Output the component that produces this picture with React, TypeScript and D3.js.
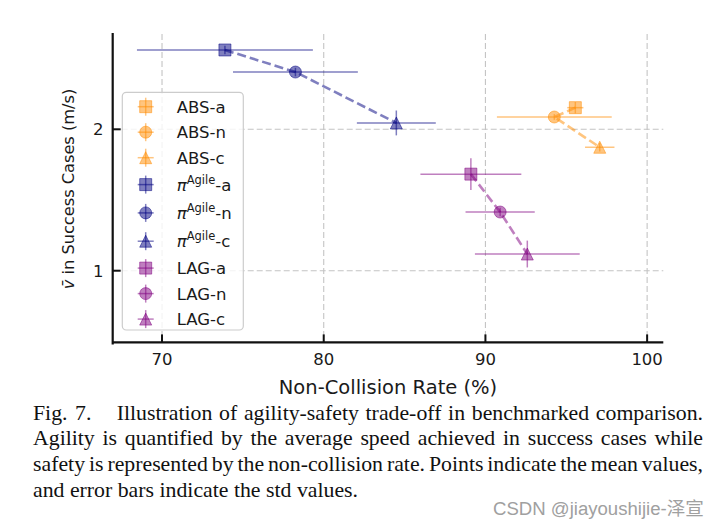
import React, { useEffect, useRef } from "react";
import * as d3 from "d3";

const W = 720;
const H = 528;

// ---- data ----
const seriesNames = ["ABS", "πAgile", "LAG"];
const variantNames = ["a", "n", "c"];
const markerShapes = ["square", "circle", "triangle"];
const seriesColors = ["#ff8c00", "#000080", "#800080"];

const absX = [95.56, 94.26, 97.07];
const absY = [2.153, 2.087, 1.873];
const absXErr = [0.5, 3.55, 0.91];
const absYErr = [0.04, 0.02, 0.03];

const agileX = [73.89, 78.25, 84.49];
const agileY = [2.561, 2.405, 2.045];
const agileXErr = [5.44, 3.86, 2.44];
const agileYErr = [0.03, 0.03, 0.088];

const lagX = [89.1, 90.91, 92.59];
const lagY = [1.683, 1.415, 1.118];
const lagXErr = [3.12, 2.14, 3.24];
const lagYErr = [0.113, 0.03, 0.095];

const xTicks = [70, 80, 90, 100];
const yTicks = [1, 2];
const xDomain = [66.95, 101];
const yDomain = [0.493, 2.674];

const xLabel = "Non-Collision Rate (%)";
const yLabelRest = " in Success Cases (m/s)";

const captionLead = ["Fig.", "7."];
const captionLines = [
  "Illustration of agility-safety trade-off in benchmarked comparison.",
  "Agility is quantified by the average speed achieved in success cases while",
  "safety is represented by the non-collision rate. Points indicate the mean values,",
  "and error bars indicate the std values.",
];
const watermark = "CSDN @jiayoushijie-泽宣";

// ---- layout ----
const plot = { left: 112.7, right: 663.3, top: 34, bottom: 342.4 };
const chartFont = "'DejaVu Sans', Verdana, sans-serif";

export default function App() {
  const ref = useRef<SVGSVGElement>(null);

  useEffect(() => {
    const svg = d3.select(ref.current as SVGSVGElement);
    svg.selectAll("*").remove();

    svg.append("rect").attr("width", W).attr("height", H).attr("fill", "#ffffff");

    const x = d3.scaleLinear().domain(xDomain).range([plot.left, plot.right]);
    const y = d3.scaleLinear().domain(yDomain).range([plot.bottom, plot.top]);

    const series = [
      { xs: absX, ys: absY, xe: absXErr, ye: absYErr },
      { xs: agileX, ys: agileY, xe: agileXErr, ye: agileYErr },
      { xs: lagX, ys: lagY, xe: lagXErr, ye: lagYErr },
    ];

    // grid
    const grid = svg.append("g").attr("stroke", "#c4c4c4").attr("stroke-width", 1.1).attr("stroke-dasharray", "6,3");
    xTicks.forEach((t) => {
      grid.append("line").attr("x1", x(t)).attr("x2", x(t)).attr("y1", plot.top).attr("y2", plot.bottom);
    });
    yTicks.forEach((t) => {
      grid.append("line").attr("x1", plot.left).attr("x2", plot.right).attr("y1", y(t)).attr("y2", y(t));
    });

    const markerPath = (shape: string, s: number) => {
      if (shape === "square") return `M${-s / 2},${-s / 2}h${s}v${s}h${-s}Z`;
      if (shape === "circle") {
        const r = s / 2;
        return `M${r},0A${r},${r} 0 1,1 ${-r},0A${r},${r} 0 1,1 ${r},0Z`;
      }
      const h = s / 2 + 0.5;
      return `M0,${-h}L${h},${h}L${-h},${h}Z`;
    };

    const drawMarker = (g: any, shape: string, color: string, cx: number, cy: number) => {
      g.append("path")
        .attr("d", markerPath(shape, shape === "triangle" ? 11 : 12))
        .attr("transform", `translate(${cx},${cy})`)
        .attr("fill", color)
        .attr("fill-opacity", 0.5)
        .attr("stroke", color)
        .attr("stroke-opacity", 0.5)
        .attr("stroke-width", 1);
    };

    const dataG = svg.append("g");
    series.forEach((s, si) => {
      const color = seriesColors[si];
      s.xs.forEach((vx, i) => {
        const vy = s.ys[i];
        dataG.append("line")
          .attr("x1", x(vx - s.xe[i])).attr("x2", x(vx + s.xe[i]))
          .attr("y1", y(vy)).attr("y2", y(vy))
          .attr("stroke", color).attr("stroke-opacity", 0.5).attr("stroke-width", 1.5);
        dataG.append("line")
          .attr("x1", x(vx)).attr("x2", x(vx))
          .attr("y1", y(vy - s.ye[i])).attr("y2", y(vy + s.ye[i]))
          .attr("stroke", color).attr("stroke-opacity", 0.5).attr("stroke-width", 1.5);
        drawMarker(dataG, markerShapes[i], color, x(vx), y(vy));
      });
      const line = d3.line<number>().x((d, i) => x(s.xs[i])).y((d, i) => y(s.ys[i]));
      dataG.append("path")
        .attr("d", line(s.xs) as string)
        .attr("fill", "none")
        .attr("stroke", color)
        .attr("stroke-opacity", 0.5)
        .attr("stroke-width", 2.6)
        .attr("stroke-dasharray", "9,4");
    });

    // spines + ticks
    const axG = svg.append("g").attr("stroke", "#111").attr("stroke-width", 2.2);
    axG.append("line").attr("x1", plot.left).attr("x2", plot.left).attr("y1", plot.top).attr("y2", plot.bottom + 1.1).attr("stroke-linecap", "square");
    axG.append("line").attr("x1", plot.left).attr("x2", plot.right).attr("y1", plot.bottom).attr("y2", plot.bottom);
    xTicks.forEach((t) => {
      axG.append("line").attr("x1", x(t)).attr("x2", x(t)).attr("y1", plot.bottom).attr("y2", plot.bottom - 8).attr("stroke-width", 2);
    });
    yTicks.forEach((t) => {
      axG.append("line").attr("x1", plot.left).attr("x2", plot.left + 8).attr("y1", y(t)).attr("y2", y(t)).attr("stroke-width", 2);
    });

    const txt = svg.append("g").attr("font-family", chartFont).attr("fill", "#1a1a1a");
    xTicks.forEach((t) => {
      txt.append("text").attr("x", x(t)).attr("y", 365.3).attr("text-anchor", "middle").attr("font-size", 16.5).text(String(t));
    });
    yTicks.forEach((t) => {
      txt.append("text").attr("x", 103.5).attr("y", y(t) + 6).attr("text-anchor", "end").attr("font-size", 16.5).text(String(t));
    });
    txt.append("text").attr("x", (plot.left + plot.right) / 2).attr("y", 394).attr("text-anchor", "middle").attr("font-size", 19.5).text(xLabel);
    const yl = txt.append("text")
      .attr("transform", `translate(74,189) rotate(-90)`)
      .attr("text-anchor", "middle").attr("font-size", 16.2);
    yl.append("tspan").attr("font-style", "italic").text("v\u0304");
    yl.append("tspan").text(yLabelRest);

    // legend
    const leg = svg.append("g");
    leg.append("rect")
      .attr("x", 122.3).attr("y", 92.3).attr("width", 121).attr("height", 237.7)
      .attr("rx", 4).attr("fill", "#ffffff").attr("fill-opacity", 0.8)
      .attr("stroke", "#cccccc").attr("stroke-width", 1.2);
    let rowY = 106.7;
    let prevH = 0;
    const hNormal = 25.5;
    const hPi = 28.3;
    seriesNames.forEach((name, si) => {
      variantNames.forEach((v, vi) => {
        const isPi = name === "πAgile";
        const h = isPi ? hPi : hNormal;
        if (prevH) rowY += (prevH + h) / 2;
        prevH = h;
        const color = seriesColors[si];
        const mx = 145.7;
        leg.append("line").attr("x1", mx - 8).attr("x2", mx + 8).attr("y1", rowY).attr("y2", rowY)
          .attr("stroke", color).attr("stroke-opacity", 0.5).attr("stroke-width", 1.5);
        leg.append("line").attr("x1", mx).attr("x2", mx).attr("y1", rowY - 9).attr("y2", rowY + 9)
          .attr("stroke", color).attr("stroke-opacity", 0.5).attr("stroke-width", 1.5);
        drawMarker(leg, markerShapes[vi], color, mx, rowY);
        const t = leg.append("text").attr("x", 176.7).attr("y", rowY + 6)
          .attr("font-family", chartFont).attr("font-size", 16.5).attr("fill", "#1a1a1a");
        if (isPi) {
          t.append("tspan").attr("font-style", "italic").text("π");
          t.append("tspan").attr("font-size", 11.5).attr("dy", -7).text("Agile");
          t.append("tspan").attr("dy", 7).text("-" + v);
        } else {
          t.text(`${name}-${v}`);
        }
      });
    });

    // caption (justified)
    const capFont = 21.8;
    const capLeft = 33;
    const capRight = 703;
    const base0 = 419.5;
    const lead = 25.8;
    const cap = svg.append("g")
      .attr("font-family", "'Liberation Serif', 'Times New Roman', serif")
      .attr("font-size", capFont).attr("fill", "#111");
    cap.append("text").attr("x", capLeft).attr("y", base0).text(captionLead[0]);
    cap.append("text").attr("x", 75).attr("y", base0).text(captionLead[1]);
    captionLines.forEach((ln, i) => {
      const yb = base0 + i * lead;
      const start = i === 0 ? 116.7 : capLeft;
      const end = capRight;
      const last = i === captionLines.length - 1;
      if (last) {
        cap.append("text").attr("x", start).attr("y", yb).text(ln);
        return;
      }
      const words = ln.split(" ");
      const nodes = words.map((w) => cap.append("text").attr("y", yb).text(w));
      const widths = nodes.map((n) => (n.node() as SVGTextElement).getComputedTextLength());
      const total = widths.reduce((a, b) => a + b, 0);
      const gap = (end - start - total) / (words.length - 1);
      let cx = start;
      nodes.forEach((n, k) => {
        n.attr("x", cx);
        cx += widths[k] + gap;
      });
    });

    // watermark
    const wm = svg.append("text")
      .attr("x", 493)
      .attr("y", 514.5)
      .attr("font-family", "'Liberation Sans', Arial, 'Noto Sans CJK SC', sans-serif")
      .attr("font-size", 17)
      .attr("fill", "#a0a0a0")
      .text(watermark);
    const wmW = (wm.node() as SVGTextElement).getComputedTextLength();
    wm.attr("font-size", (17 * 211) / wmW);
  }, []);

  return (
    <svg
      ref={ref}
      width={W}
      height={H}
      style={{ position: "absolute", left: 0, top: 0, display: "block" }}
    />
  );
}
